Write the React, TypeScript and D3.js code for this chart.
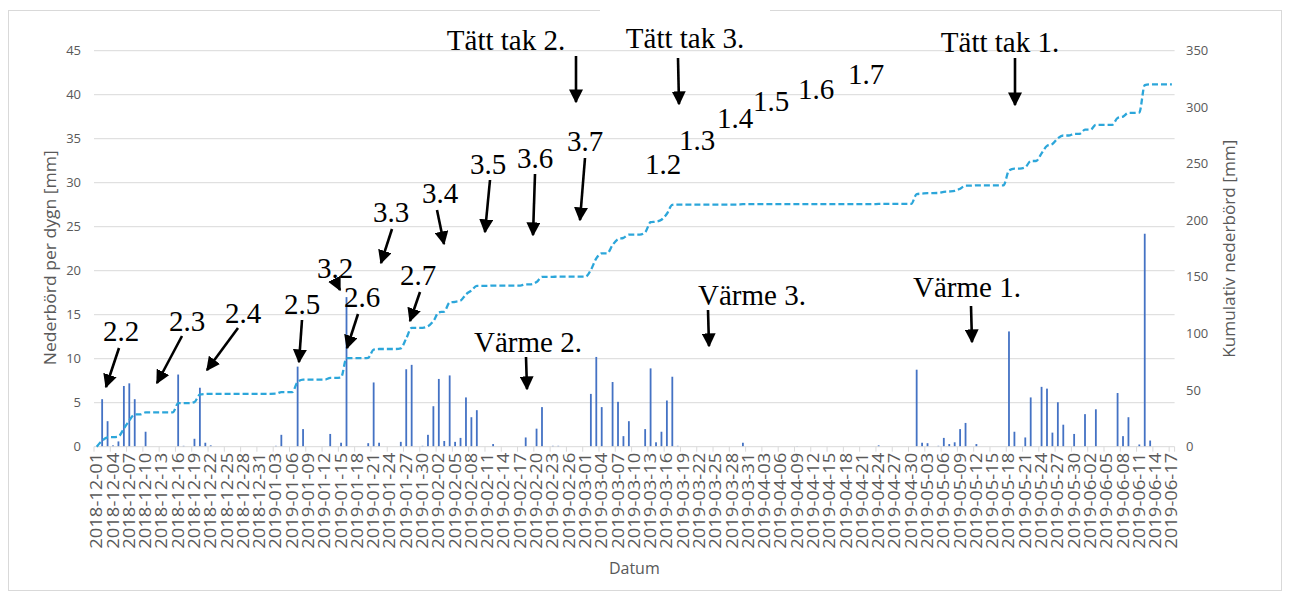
import React from "react";
import * as d3 from "d3";

// ---------- DATA ----------
const startDay = "2018-12-01";
const endDay = "2019-06-17";

// Days with precipitation (all other days 0 mm)
const rainDates = [
  "2018-12-02", "2018-12-03", "2018-12-04", "2018-12-05", "2018-12-06", "2018-12-07", "2018-12-08", "2018-12-10",
  "2018-12-16", "2018-12-17", "2018-12-19", "2018-12-20", "2018-12-21", "2018-12-22",
  "2019-01-03", "2019-01-04", "2019-01-07", "2019-01-08", "2019-01-13", "2019-01-15", "2019-01-16",
  "2019-01-20", "2019-01-21", "2019-01-22", "2019-01-26", "2019-01-27", "2019-01-28", "2019-01-30", "2019-01-31",
  "2019-02-01", "2019-02-02", "2019-02-03", "2019-02-04", "2019-02-05", "2019-02-06", "2019-02-07", "2019-02-08",
  "2019-02-09", "2019-02-12", "2019-02-18", "2019-02-20", "2019-02-21", "2019-02-23", "2019-02-24",
  "2019-03-02", "2019-03-03", "2019-03-04", "2019-03-06", "2019-03-07", "2019-03-08", "2019-03-09",
  "2019-03-12", "2019-03-13", "2019-03-14", "2019-03-15", "2019-03-16", "2019-03-17", "2019-03-18", "2019-03-30",
  "2019-04-09", "2019-04-24",
  "2019-05-01", "2019-05-02", "2019-05-03", "2019-05-05", "2019-05-06", "2019-05-07", "2019-05-08", "2019-05-09",
  "2019-05-10", "2019-05-12", "2019-05-18", "2019-05-19", "2019-05-21", "2019-05-22", "2019-05-24", "2019-05-25",
  "2019-05-26", "2019-05-27", "2019-05-28", "2019-05-30",
  "2019-06-01", "2019-06-03", "2019-06-07", "2019-06-08", "2019-06-09", "2019-06-11", "2019-06-12", "2019-06-13",
];
const rainMm = [
  5.4, 2.9, 0.15, 0.6, 6.9, 7.2, 5.4, 1.7,
  8.2, 0.1, 0.9, 6.7, 0.45, 0.15,
  0.1, 1.35, 9.1, 2.0, 1.45, 0.45, 17.0,
  0.4, 7.3, 0.45, 0.55, 8.8, 9.3, 0.1, 1.35,
  4.6, 7.7, 0.65, 8.1, 0.55, 1.0, 5.6, 3.35,
  4.15, 0.3, 1.05, 2.05, 4.5, 0.1, 0.1,
  6.0, 10.2, 4.5, 7.35, 5.1, 1.2, 2.9,
  2.0, 8.9, 0.5, 1.7, 5.25, 7.95, 0.1, 0.45,
  0.05, 0.15,
  8.75, 0.45, 0.4, 0.1, 1.0, 0.3, 0.5, 2.0,
  2.7, 0.3, 13.1, 1.7, 1.05, 5.6, 6.8, 6.6,
  1.6, 5.05, 2.5, 1.45,
  3.7, 4.25, 6.1, 1.2, 3.35, 0.25, 24.2, 0.7,
];

const leftTicks = [0, 5, 10, 15, 20, 25, 30, 35, 40, 45];
const rightTicks = [0, 50, 100, 150, 200, 250, 300, 350];

// Annotations: label, text position, optional arrow (from -> to)
const noteLabels = [
  "2.2", "2.3", "2.4", "2.5", "3.2", "2.6", "3.3", "2.7", "3.4", "3.5", "3.6", "3.7",
  "1.2", "1.3", "1.4", "1.5", "1.6", "1.7",
  "Tätt tak 2.", "Tätt tak 3.", "Tätt tak 1.", "Värme 2.", "Värme 3.", "Värme 1.",
];
const noteText: [number, number][] = [
  [121, 341], [187, 331], [243, 323], [302, 314], [335, 278], [362, 307], [391, 222], [418, 285],
  [440, 203], [488, 174], [535, 168], [585, 151],
  [663, 174], [697, 150], [735, 128], [771, 111], [816, 99], [866, 84],
  [506, 50], [685, 48], [1000, 52], [528, 352], [752, 305], [967, 297],
];
const noteArrow: ([number, number, number, number] | null)[] = [
  [119, 348, 106, 387], [182, 336, 157, 383], [238, 328, 207, 370], [302, 320, 299, 362],
  [336, 282, 340, 290], [358, 314, 347, 348], [392, 229, 381, 263], [420, 292, 410, 321],
  [437, 210, 444, 244], [490, 180, 485, 232], [535, 174, 533, 235], [585, 158, 580, 220],
  null, null, null, null, null, null,
  [576, 56, 576, 102], [678, 58, 679, 104], [1015, 58, 1015, 105],
  [526, 357, 527, 389], [708, 310, 709, 346], [971, 306, 972, 342],
];

// ---------- LAYOUT ----------
const W = 1291;
const H = 592;
const plotL = 94;
const plotR = 1174.6;
const yTop = 50.7;
const yBot = 446.7;

export default function App() {
  const parse = d3.timeParse("%Y-%m-%d");
  const fmt = d3.timeFormat("%Y-%m-%d");
  const days = d3.timeDay.range(parse(startDay)!, d3.timeDay.offset(parse(endDay)!, 1)).map(fmt);
  const rainMap = new Map(rainDates.map((d, i) => [d, rainMm[i]]));
  const daily = days.map((d) => rainMap.get(d) ?? 0);
  const cumul = Array.from(d3.cumsum(daily));

  const x = d3.scaleBand<string>().domain(days).range([plotL, plotR]).padding(0);
  const bw = x.bandwidth();
  const yL = d3.scaleLinear().domain([0, 45]).range([yBot, yTop]);
  const yR = d3.scaleLinear().domain([0, 350]).range([yBot, yTop]);

  const line = d3
    .line<number>()
    .x((_, i) => x(days[i])! + bw / 2)
    .y((v) => yR(v))
    .curve(d3.curveMonotoneX);

  const labelDays = days.filter((_, i) => i % 3 === 0);
  const axisFont = "'Open Sans', 'Liberation Sans', sans-serif";
  const noteFont = "'Liberation Serif', 'Times New Roman', serif";
  const grey = "#595959";

  return (
    <svg
      width={W}
      height={H}
      style={{ position: "absolute", left: 0, top: 0, background: "#fff" }}
    >
      <defs>
        <marker
          id="ah"
          viewBox="0 0 10 10"
          refX="9"
          refY="5"
          markerWidth="14"
          markerHeight="14"
          markerUnits="userSpaceOnUse"
          orient="auto"
        >
          <path d="M0,0 L10,5 L0,10 z" fill="#000" />
        </marker>
      </defs>
      <rect x={8.5} y={10.5} width={1273} height={580} fill="#fff" stroke="#d9d9d9" />

      {/* gridlines */}
      {leftTicks.slice(1).map((t) => (
        <line key={t} x1={plotL} x2={plotR} y1={yL(t)} y2={yL(t)} stroke="#d9d9d9" strokeWidth={1} />
      ))}

      {/* bars */}
      {daily.map((v, i) =>
        v > 0 ? (
          <rect
            key={i}
            x={x(days[i])! + bw / 2 - 0.9}
            y={yL(v)}
            width={1.8}
            height={yBot - yL(v)}
            fill="#4472C4"
          />
        ) : null
      )}

      {/* x axis */}
      <line x1={plotL} x2={plotR} y1={yBot} y2={yBot} stroke="#d9d9d9" />
      {labelDays.map((d) => (
        <line key={d} x1={x(d)!} x2={x(d)!} y1={yBot} y2={yBot + 5} stroke="#d9d9d9" />
      ))}
      <line x1={plotR} x2={plotR} y1={yBot} y2={yBot + 5} stroke="#d9d9d9" />
      {labelDays.map((d) => (
        <text
          key={d}
          transform={`translate(${x(d)! + bw / 2 + 5.5},${yBot + 6}) rotate(-90)`}
          textAnchor="end"
          fontFamily={axisFont}
          fontSize={16}
          textLength={96}
          lengthAdjust="spacingAndGlyphs"
          fill={grey}
        >
          {d}
        </text>
      ))}

      {/* cumulative line */}
      <path d={line(cumul) ?? ""} fill="none" stroke="#2CA6DA" strokeWidth={2.3} strokeDasharray="6,3" />

      {/* left axis labels */}
      {leftTicks.map((t) => (
        <text key={t} x={81} y={yL(t) + 4.5} textAnchor="end" fontFamily={axisFont} fontSize={13} fill={grey}>
          {t}
        </text>
      ))}
      {rightTicks.map((t) => (
        <text key={t} x={1186} y={yR(t) + 4.5} textAnchor="start" fontFamily={axisFont} fontSize={13} fill={grey}>
          {t}
        </text>
      ))}

      {/* axis titles */}
      <text
        transform={`translate(56,${(yTop + yBot) / 2 + 9}) rotate(-90)`}
        textAnchor="middle"
        fontFamily={axisFont}
        fontSize={17}
        textLength={215}
        lengthAdjust="spacingAndGlyphs"
        fill={grey}
      >
        Nederbörd per dygn [mm]
      </text>
      <text
        transform={`translate(1235,${(yTop + yBot) / 2}) rotate(-90)`}
        textAnchor="middle"
        fontFamily={axisFont}
        fontSize={17}
        textLength={218}
        lengthAdjust="spacingAndGlyphs"
        fill={grey}
      >
        Kumulativ nederbörd [mm]
      </text>
      <text x={(plotL + plotR) / 2} y={574} textAnchor="middle" fontFamily={axisFont} fontSize={16} fill={grey}>
        Datum
      </text>

      {/* white text box at top */}
      <rect x={600} y={0} width={170} height={50} fill="#fff" />

      {/* annotations */}
      {noteLabels.map((lab, i) => (
        <text
          key={lab}
          x={noteText[i][0]}
          y={noteText[i][1]}
          textAnchor="middle"
          fontFamily={noteFont}
          fontSize={29}
          fill="#000"
        >
          {lab}
        </text>
      ))}
      {noteArrow.map((a, i) =>
        a ? (
          <line
            key={i}
            x1={a[0]}
            y1={a[1]}
            x2={a[2]}
            y2={a[3]}
            stroke="#000"
            strokeWidth={2.6}
            markerEnd="url(#ah)"
          />
        ) : null
      )}
    </svg>
  );
}
